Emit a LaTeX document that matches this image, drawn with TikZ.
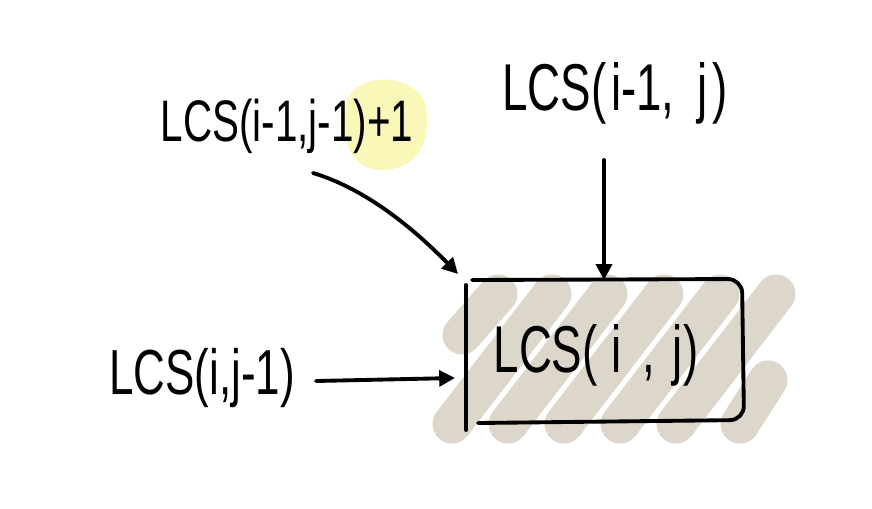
\documentclass[tikz,border=0pt]{standalone}
\usepackage{fontspec}
\setmainfont{Liberation Sans}
\usetikzlibrary{arrows.meta}
\newcommand{\tallt}[1]{\scalebox{1}[1.45]{#1}}
\begin{document}
\begin{tikzpicture}[x=0.02cm,y=-0.02cm,
  lbl/.style={font=\fontsize{23}{27}\selectfont, inner sep=0pt, text=black},
  midlbl/.style={font=\fontsize{25}{29}\selectfont, inner sep=0pt, text=black},
  biglbl/.style={font=\fontsize{26}{30}\selectfont, inner sep=0pt, text=black},
  conn/.style={line width=2.2pt, line cap=round, -{Triangle[length=9pt,width=9pt]}},
  scrib/.style={line width=0.78cm, line cap=round, line join=round, color=tan1},
]
\definecolor{tan1}{HTML}{DDD6CB}
\definecolor{hl}{HTML}{FAF8B8}
\useasboundingbox (0,0) rectangle (872,508);
% highlight blob
\fill[hl] (348,98) .. controls (362,70) and (420,74) .. (426,108)
  .. controls (432,150) and (410,172) .. (378,170)
  .. controls (348,168) and (336,128) .. (348,98) -- cycle;
% scribble fill
\foreach \x in {452,508,564,620,676} {
  \draw[scrib] (\x,424) -- (\x+100,294);
}
\draw[scrib] (462,335) -- (498,294);
\draw[scrib] (740,424) -- (768,380);
% box
\coordinate (bl) at (466,430);
\coordinate (tl) at (466,285);
\draw[line width=2.2pt, line cap=round] (tl) -- (bl);
\draw[line width=2.2pt, line cap=round, rounded corners=8pt]
  (472,280) -- (742,279) -- (744,420) -- (478,423);
\node[biglbl] (center) at (596,355) {\tallt{LCS(\hspace{0.3em}i\hspace{0.45em},\hspace{0.4em}j)}};
% labels
\node[lbl] (diag) at (287,126) {\tallt{LCS(i-1,j-1)+1}};
\node[biglbl] (up) at (615,93) {\tallt{LCS(\hspace{0.1em}i-1,\hspace{0.5em}j\hspace{0.1em})}};
\node[midlbl] (left) at (202,378) {\tallt{LCS(i,j-1)}};
% connector endpoints
\coordinate (d1) at (313,173);
\coordinate (d2) at (458,274);
\coordinate (u1) at (604,160);
\coordinate (u2) at (604,280);
\coordinate (l1) at (316,381);
\coordinate (l2) at (455,378);
\draw[conn] (d1) .. controls (370,190) and (420,235) .. (d2);
\draw[conn] (u1) -- (u2);
\draw[conn] (l1) -- (l2);
\end{tikzpicture}
\end{document}
